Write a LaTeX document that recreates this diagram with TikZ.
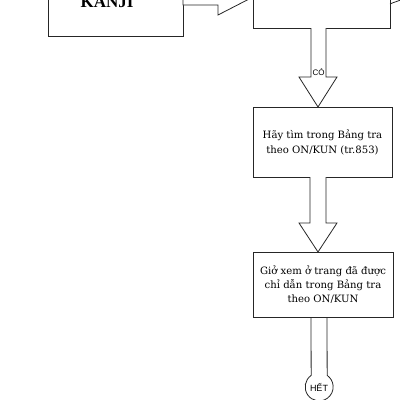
\documentclass[tikz,border=0pt]{standalone}
\usepackage{fontspec}
\setmainfont{DejaVu Serif}
\newfontfamily\labfont{Liberation Sans}
\newfontfamily\kanjifont{Liberation Serif}
\usetikzlibrary{calc}
\begin{document}
\begin{tikzpicture}[x=1pt,y=1pt, line width=0.8pt,
  ln/.style={draw=black!85},
  box/.style={draw=black!85, rectangle, inner sep=0pt, outer sep=0pt, align=center},
  txtA/.style={font=\fontsize{10.1}{15}\selectfont},
  txtB/.style={font=\fontsize{10.1}{14.3}\selectfont},
  fat/.style={draw=black!85, fill=white, line join=miter},
  lab/.style={font=\labfont\fontsize{8}{9}\selectfont, inner sep=0pt},
]
\useasboundingbox (0,0) rectangle (400,-400);
\clip (0,0) rectangle (400,-400);
% boxes
\node[box, minimum width=135pt, minimum height=80pt] (kb) at (115.5,4) {};
\node[font=\kanjifont\bfseries\fontsize{17}{17}\selectfont, anchor=base, inner sep=0pt] (kt) at (107,-7) {KANJI};
\node[box, minimum width=137pt, minimum height=80pt] (rb) at (321.5,12) {};
\node[box, txtA, minimum width=139pt, minimum height=70pt] (b2) at (322.5,-142) {Hãy tìm trong Bảng tra\\theo ON/KUN (tr.853)};
\node[box, txtB, minimum width=140pt, minimum height=65pt] (b3) at (323,-284.5) {Giở xem ở trang đã được\\chỉ dẫn trong Bảng tra\\theo ON/KUN};
\node[circle, minimum size=28pt, inner sep=0pt, outer sep=0pt, font=\labfont\fontsize{9}{10}\selectfont] (het) at (319,-387) {HẾT};
\coordinate (off) at (403,1);
% fat arrow left -> right
\draw[fat] (kb.east |- 0,11) -- (218,11) -- (218,21) -- (rb.west |- 0,3) -- (218,-15) -- (218,-5) -- (kb.east |- 0,-5) -- cycle;
% fat arrow down 1
\draw[fat] (rb.south -| 311,0) -- (311,-77) -- (299,-77) -- (b2.north -| 318,0) -- (337,-77) -- (326,-77) -- (rb.south -| 326,0);
\node[lab] (co) at (318.5,-72) {CÓ};
% fat arrow down 2
\draw[fat] (b2.south -| 310,0) -- (310,-223) -- (299,-223) -- (b3.north -| 318,0) -- (337,-223) -- (326,-223) -- (b2.south -| 326,0);
% thermometer to end
\draw[ln] (b3.south -| 311,0) -- (het.124.85) arc[start angle=124.85, end angle=415.15, radius=14pt] -- (b3.south -| 327,0);
% outgoing line top right
\draw[ln] (rb.east |- 0,-4) to[out=25, in=205] (off);
\end{tikzpicture}
\end{document}
